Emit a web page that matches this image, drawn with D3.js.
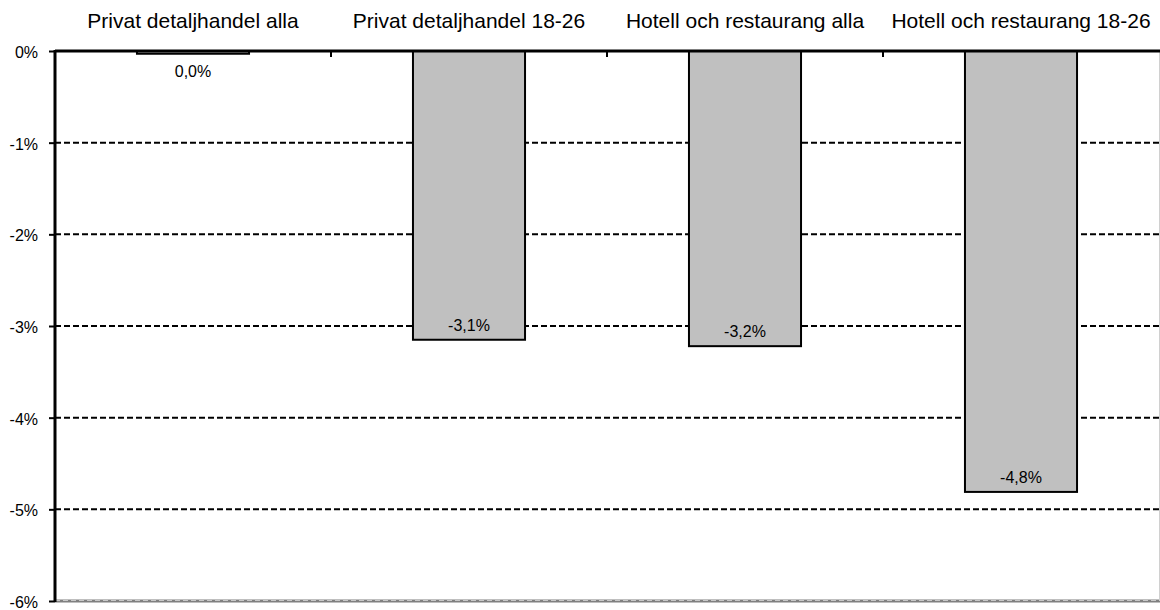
<!DOCTYPE html>
<html><head><meta charset="utf-8">
<script src="https://cdn.jsdelivr.net/npm/d3@7"></script>
<style>body{margin:0;background:#fff}svg{display:block;font-family:"Liberation Sans",Arial,sans-serif}</style>
</head><body><svg id="c" width="1160" height="610"></svg>
<script>
const categories = ["Privat detaljhandel alla","Privat detaljhandel 18-26","Hotell och restaurang alla","Hotell och restaurang 18-26"];
const values = [-0.0003, -0.0315, -0.0322, -0.0481];
const valueLabels = ["0,0%","-3,1%","-3,2%","-4,8%"];
const yTicks = [0,-0.01,-0.02,-0.03,-0.04,-0.05,-0.06];
const yTickLabels = ["0%","-1%","-2%","-3%","-4%","-5%","-6%"];

const svg = d3.select("#c");
const L = 55, R = 1159, T = 51, B = 601;
const x = d3.scaleBand().domain(categories).range([L, R]).paddingInner(0.594).paddingOuter(0.297);
const y = d3.scaleLinear().domain([0,-0.06]).range([T,B]);

// gridlines
svg.append("g").selectAll("line").data(yTicks.slice(1,6)).join("line")
  .attr("x1",L).attr("x2",1160).attr("y1",d=>y(d)).attr("y2",d=>y(d))
  .attr("stroke","#000").attr("stroke-width",2).attr("stroke-dasharray","6,3");
// bottom line
svg.append("line").attr("x1",L).attr("x2",1160).attr("y1",y(-0.06)).attr("y2",y(-0.06))
  .attr("stroke","#808080").attr("stroke-width",3);
svg.append("line").attr("x1",L).attr("x2",1160).attr("y1",y(-0.06)-0.5).attr("y2",y(-0.06)-0.5)
  .attr("stroke","#c8c8c8").attr("stroke-width",1).attr("stroke-dasharray","5,3");
// right border
svg.append("line").attr("x1",1159.5).attr("x2",1159.5).attr("y1",T).attr("y2",B)
  .attr("stroke","#d0d0d0").attr("stroke-width",1);

// bars
svg.append("g").selectAll("rect").data(values).join("rect")
  .attr("x",(d,i)=>x(categories[i])).attr("width",x.bandwidth())
  .attr("y",y(0)).attr("height",d=>Math.max(y(d)-y(0),2.5))
  .attr("fill","#c0c0c0").attr("stroke","#000").attr("stroke-width",2);

// value labels
svg.append("g").selectAll("text").data(values).join("text")
  .attr("x",(d,i)=>x(categories[i])+x.bandwidth()/2)
  .attr("y",d=>{const b=y(d); return (b-y(0)>30)? b-9 : b+23;})
  .attr("text-anchor","middle").attr("font-size",16).attr("fill","#000")
  .text((d,i)=>valueLabels[i]);

// y axis
const ya = svg.append("g").attr("transform",`translate(${L},0)`)
  .call(d3.axisLeft(y).tickValues(yTicks).tickSize(6).tickPadding(11).tickFormat((d,i)=>yTickLabels[i]));
ya.select(".domain").remove();
ya.selectAll(".tick line").attr("stroke","#000").attr("stroke-width",2);
ya.selectAll(".tick text").attr("font-size",16).attr("dy","0.4em").attr("font-family","'Liberation Sans',Arial,sans-serif").attr("fill","#000");
svg.append("line").attr("x1",L).attr("x2",L).attr("y1",T-1).attr("y2",B+1).attr("stroke","#000").attr("stroke-width",3);

// top zero axis with category labels
const xa = svg.append("g").attr("transform",`translate(0,${T})`)
  .call(d3.axisTop(x).tickSize(0).tickPadding(23));
xa.select(".domain").remove();
xa.selectAll(".tick text").attr("font-size",21).attr("font-family","'Liberation Sans',Arial,sans-serif").attr("fill","#000");
// category separators
const seps = categories.slice(1).map(c=>x(c)-x.step()*x.paddingInner()/2);
svg.append("g").selectAll("line").data(seps).join("line")
  .attr("x1",d=>d).attr("x2",d=>d).attr("y1",T).attr("y2",T+6)
  .attr("stroke","#000").attr("stroke-width",2);
svg.append("line").attr("x1",L).attr("x2",1160).attr("y1",T).attr("y2",T).attr("stroke","#000").attr("stroke-width",3);
</script></body></html>
